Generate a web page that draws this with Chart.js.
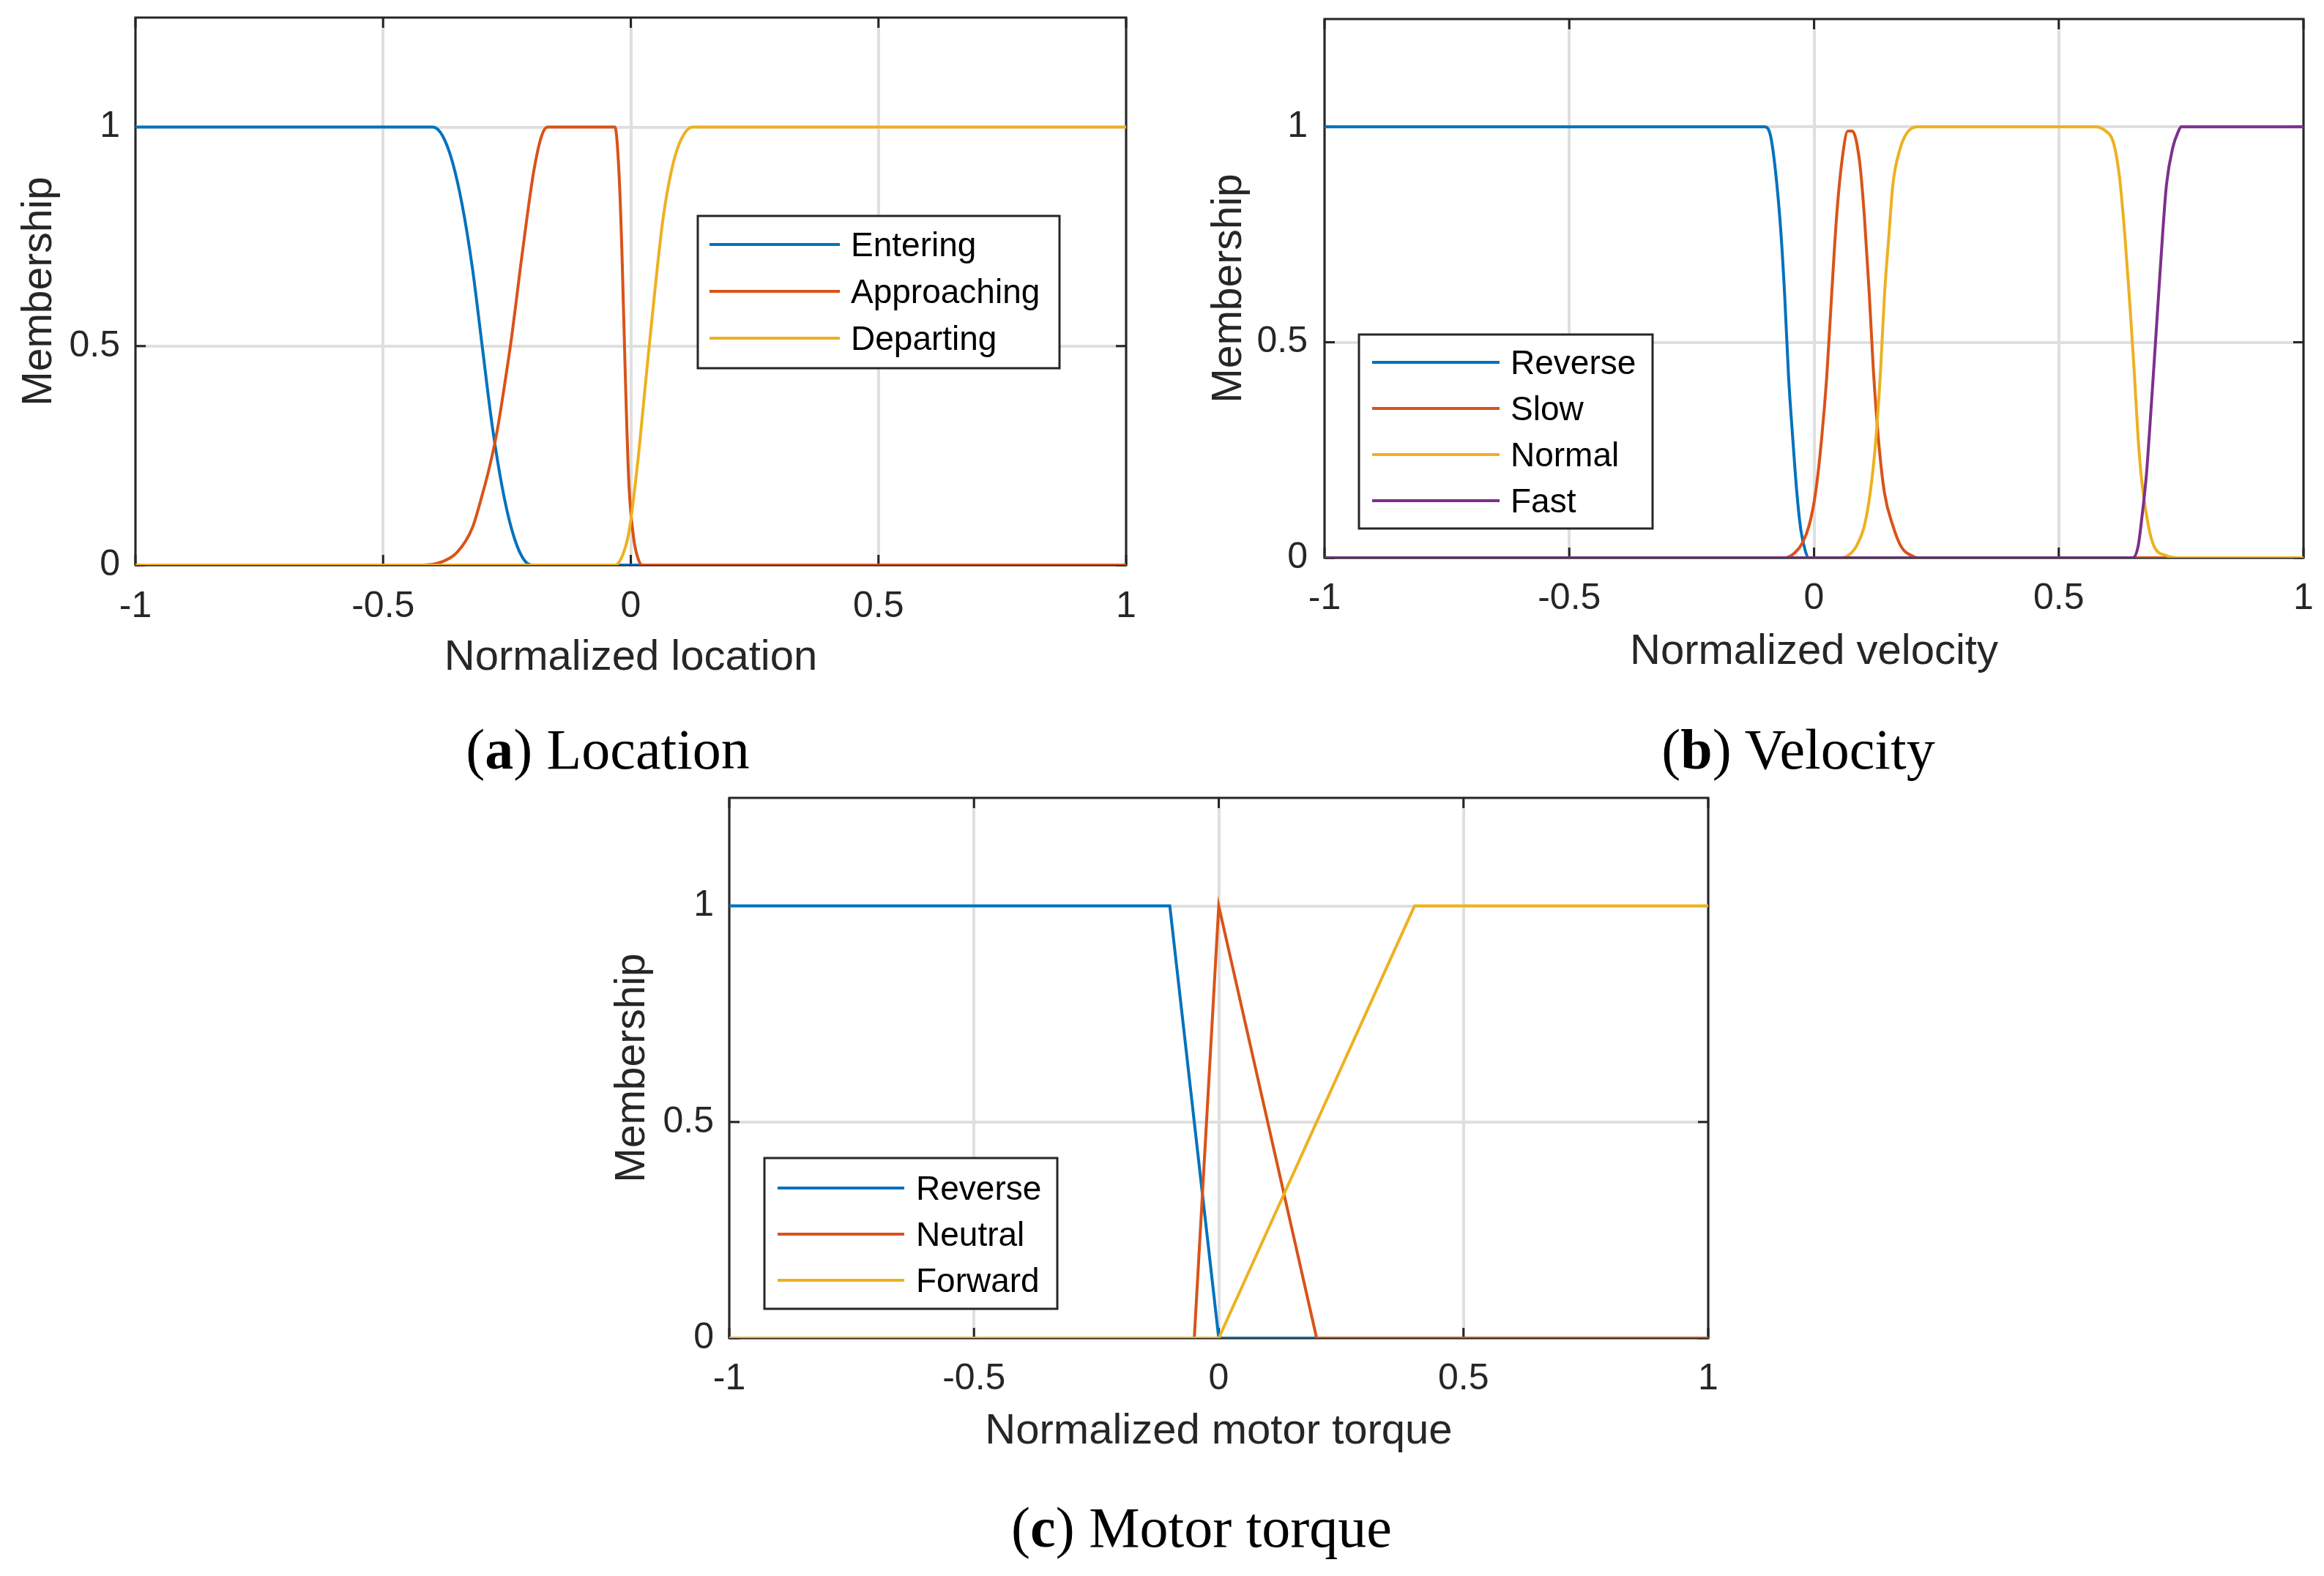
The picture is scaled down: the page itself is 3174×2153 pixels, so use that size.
<!DOCTYPE html>
<html>
<head>
<meta charset="utf-8">
<script src="https://cdn.jsdelivr.net/npm/chart.js@4.4.1/dist/chart.umd.min.js"></script>
<style>
    html, body { margin: 0; padding: 0; background: #fff; }
    body { width: 3174px; height: 2153px; position: relative; overflow: hidden; }
    canvas { position: absolute; }
    .caption { position: absolute; font-family: "Liberation Serif", "Times New Roman", serif; font-size: 78px; line-height: 78px; color: #000; white-space: nowrap; transform: translateX(-50%); }
</style>
</head>
<body>
<canvas id="locationChart" width="1600" height="970" style="left:0px;top:0px;width:1600px;height:970px"></canvas>
<canvas id="velocityChart" width="1554" height="970" style="left:1620px;top:0px;width:1554px;height:970px"></canvas>
<canvas id="torqueChart" width="1600" height="980" style="left:800px;top:1050px;width:1600px;height:980px"></canvas>
<div class="caption" style="left:830px;top:985px">(<b>a</b>) Location</div>
<div class="caption" style="left:2456px;top:985px">(<b>b</b>) Velocity</div>
<div class="caption" style="left:1641px;top:2048px">(<b>c</b>) Motor torque</div>
<script>
// ticks shared by all three panels
var xTicks = [-1, -0.5, 0, 0.5, 1];
var xTickLabels = ['-1', '-0.5', '0', '0.5', '1'];
var yTicks = [0, 0.5, 1];
var yTickLabels = ['0', '0.5', '1'];

// (a) location
var locationLabels = ['Entering', 'Approaching', 'Departing'];
var enteringX = [-1, -0.4, -0.38, -0.36, -0.34, -0.32, -0.3, -0.28, -0.26, -0.24, -0.22, -0.2, 1];
var enteringY = [1, 1, 0.98, 0.92, 0.82, 0.68, 0.5, 0.32, 0.18, 0.08, 0.02, 0, 0];
var approachingX = [-1, -0.42, -0.38, -0.35, -0.32, -0.3, -0.285, -0.27, -0.255, -0.24, -0.225, -0.21, -0.195, -0.18, -0.168, -0.032, -0.024, -0.018, -0.011, -0.004, 0.006, 0.015, 0.023, 1];
var approachingY = [0, 0, 0.008, 0.03, 0.085, 0.16, 0.225, 0.305, 0.41, 0.525, 0.66, 0.79, 0.905, 0.98, 1, 1, 0.9, 0.72, 0.43, 0.19, 0.06, 0.014, 0, 0];
var departingX = [-1, -0.032, -0.016, -0.003, 0.014, 0.031, 0.048, 0.065, 0.082, 0.099, 0.125, 1];
var departingY = [0, 0, 0.024, 0.08, 0.235, 0.43, 0.62, 0.79, 0.9, 0.965, 1, 1];

// (b) velocity
var velocityLabels = ['Reverse', 'Slow', 'Normal', 'Fast'];
var reverseX = [-1, -0.1, -0.089, -0.079, -0.068, -0.06, -0.052, -0.043, -0.035, -0.027, -0.018, -0.011, 1];
var reverseY = [1, 1, 0.98, 0.9, 0.76, 0.61, 0.42, 0.27, 0.15, 0.065, 0.017, 0, 0];
var slowX = [-1, -0.06, -0.039, -0.023, -0.01, 0.003, 0.015, 0.026, 0.036, 0.046, 0.057, 0.069, 0.078, 0.093, 0.103, 0.113, 0.121, 0.132, 0.144, 0.161, 0.178, 0.203, 0.215, 1];
var slowY = [0, 0, 0.012, 0.036, 0.075, 0.15, 0.27, 0.42, 0.61, 0.79, 0.92, 0.99, 0.99, 0.92, 0.79, 0.61, 0.44, 0.27, 0.15, 0.075, 0.026, 0.003, 0, 0];
var normalX = [-1, 0.053, 0.069, 0.086, 0.103, 0.115, 0.126, 0.136, 0.144, 0.153, 0.161, 0.174, 0.19, 0.211, 0.574, 0.595, 0.612, 0.624, 0.635, 0.645, 0.654, 0.662, 0.67, 0.683, 0.695, 0.72, 0.745, 1];
var normalY = [0, 0, 0.005, 0.026, 0.075, 0.153, 0.27, 0.436, 0.611, 0.748, 0.865, 0.942, 0.986, 1, 1, 0.991, 0.962, 0.884, 0.748, 0.592, 0.436, 0.28, 0.173, 0.075, 0.026, 0.005, 0, 0];
var fastX = [-1, 0.651, 0.662, 0.67, 0.679, 0.687, 0.695, 0.704, 0.712, 0.72, 0.733, 0.745, 0.75, 1];
var fastY = [0, 0, 0.026, 0.095, 0.192, 0.319, 0.455, 0.611, 0.748, 0.865, 0.952, 0.991, 1, 1];

// (c) motor torque
var torqueLabels = ['Reverse', 'Neutral', 'Forward'];
var torqueReverseX = [-1, -0.1, 0, 1];
var torqueReverseY = [1, 1, 0, 0];
var neutralX = [-1, -0.05, 0, 0.2, 1];
var neutralY = [0, 0, 1, 0, 0];
var forwardX = [-1, 0, 0.4, 1];
var forwardY = [0, 0, 1, 1];

var lineColors = ['#0072BD', '#D95319', '#EDB120', '#7E2F8E'];

Chart.defaults.font.family = '"Liberation Sans", Arial, sans-serif';
Chart.defaults.color = '#262626';

function toPoints(xs, ys) {
    return xs.map(function (x, i) { return { x: x, y: ys[i] }; });
}

function makeDataset(label, xs, ys, i, smooth) {
    return {
        label: label,
        data: toPoints(xs, ys),
        showLine: true,
        borderColor: lineColors[i],
        backgroundColor: lineColors[i],
        borderWidth: 4,
        pointRadius: 0,
        fill: false,
        cubicInterpolationMode: smooth ? 'monotone' : 'default',
        tension: 0,
        order: -i   // later series painted on top, as in MATLAB
    };
}

// MATLAB-like box with inward ticks on all four sides (under the data lines)
var boxPlugin = {
    id: 'matlabBox',
    beforeDatasetsDraw: function (chart) {
        var ctx = chart.ctx, a = chart.chartArea;
        var xs = chart.scales.x, ys = chart.scales.y;
        var len = 14;
        ctx.save();
        ctx.strokeStyle = '#262626';
        ctx.lineWidth = 3;
        ctx.beginPath();
        xTicks.forEach(function (v) {
            var px = xs.getPixelForValue(v);
            ctx.moveTo(px, a.bottom); ctx.lineTo(px, a.bottom - len);
            ctx.moveTo(px, a.top); ctx.lineTo(px, a.top + len);
        });
        yTicks.forEach(function (v) {
            var py = ys.getPixelForValue(v);
            ctx.moveTo(a.left, py); ctx.lineTo(a.left + len, py);
            ctx.moveTo(a.right, py); ctx.lineTo(a.right - len, py);
        });
        ctx.stroke();
        ctx.strokeRect(a.left, a.top, a.right - a.left, a.bottom - a.top);
        ctx.restore();
    }
};

// legend drawn inside the axes, like MATLAB
var boxLegendPlugin = {
    id: 'boxLegend',
    afterDraw: function (chart, args, opts) {
        var ctx = chart.ctx;
        ctx.save();
        ctx.fillStyle = '#fff';
        ctx.fillRect(opts.left, opts.top, opts.width, opts.height);
        ctx.strokeStyle = '#262626';
        ctx.lineWidth = 3;
        ctx.strokeRect(opts.left, opts.top, opts.width, opts.height);
        ctx.font = '46px "Liberation Sans", Arial, sans-serif';
        ctx.textBaseline = 'middle';
        ctx.textAlign = 'left';
        chart.data.datasets.forEach(function (ds, i) {
            var y = opts.top + opts.firstRow + i * opts.rowGap;
            ctx.strokeStyle = ds.borderColor;
            ctx.lineWidth = 4;
            ctx.beginPath();
            ctx.moveTo(opts.left + opts.lineStart, y);
            ctx.lineTo(opts.left + opts.lineStart + opts.lineLength, y);
            ctx.stroke();
            ctx.fillStyle = '#000';
            ctx.fillText(ds.label, opts.left + opts.textStart, y + 3);
        });
        ctx.restore();
    }
};

function drawMembershipChart(id, datasets, titleX, frame, legend) {
    return new Chart(document.getElementById(id), {
        type: 'scatter',
        data: { datasets: datasets },
        plugins: [boxPlugin, boxLegendPlugin],
        options: {
            responsive: false,
            animation: false,
            devicePixelRatio: 1,
            layout: { padding: { top: frame.top, right: frame.right, left: 0, bottom: 0 } },
            plugins: {
                legend: { display: false },
                tooltip: { enabled: false },
                boxLegend: legend
            },
            scales: {
                x: {
                    type: 'linear',
                    min: -1,
                    max: 1,
                    afterBuildTicks: function (axis) { axis.ticks = xTicks.map(function (v) { return { value: v }; }); },
                    afterFit: function (axis) {
                        axis.height = frame.xHeight;
                        axis.paddingLeft = 0;
                        axis.paddingRight = 0;
                    },
                    ticks: {
                        autoSkip: false,
                        maxRotation: 0,
                        padding: frame.xTickPad,
                        font: { size: 50 },
                        callback: function (v, i) { return xTickLabels[i]; }
                    },
                    grid: { color: '#dfdfdf', lineWidth: 4, drawTicks: false },
                    border: { display: false },
                    title: {
                        display: true,
                        text: titleX,
                        font: { size: 58 },
                        padding: { top: 0, bottom: frame.xTitlePad }
                    }
                },
                y: {
                    type: 'linear',
                    min: 0,
                    max: 1.25,
                    afterBuildTicks: function (axis) { axis.ticks = yTicks.map(function (v) { return { value: v }; }); },
                    afterFit: function (axis) {
                        axis.width = frame.yWidth;
                        axis.paddingTop = 0;
                        axis.paddingBottom = 0;
                    },
                    ticks: {
                        autoSkip: false,
                        padding: frame.yTickPad,
                        font: { size: 50 },
                        callback: function (v, i) { return yTickLabels[i]; }
                    },
                    grid: { color: '#dfdfdf', lineWidth: 4, drawTicks: false },
                    border: { display: false },
                    title: {
                        display: true,
                        text: 'Membership',
                        font: { size: 57 },
                        padding: { top: frame.yTitlePad, bottom: 0 }
                    }
                }
            }
        }
    });
}

document.addEventListener("DOMContentLoaded", function () {
    drawMembershipChart('locationChart', [
        makeDataset(locationLabels[0], enteringX, enteringY, 0, true),
        makeDataset(locationLabels[1], approachingX, approachingY, 1, true),
        makeDataset(locationLabels[2], departingX, departingY, 2, true)
    ], 'Normalized location',
    { top: 24, right: 62, yWidth: 185, xHeight: 198, xTickPad: 27, yTickPad: 21, xTitlePad: 36, yTitlePad: 20 },
    { left: 953, top: 295, width: 494, height: 208, firstRow: 39, rowGap: 64, lineStart: 16, lineLength: 178, textStart: 209 });

    drawMembershipChart('velocityChart', [
        makeDataset(velocityLabels[0], reverseX, reverseY, 0, true),
        makeDataset(velocityLabels[1], slowX, slowY, 1, true),
        makeDataset(velocityLabels[2], normalX, normalY, 2, true),
        makeDataset(velocityLabels[3], fastX, fastY, 3, true)
    ], 'Normalized velocity',
    { top: 26, right: 28, yWidth: 189, xHeight: 208, xTickPad: 26, yTickPad: 23, xTitlePad: 44, yTitlePad: 25 },
    { left: 236, top: 457, width: 401, height: 265, firstRow: 38, rowGap: 63, lineStart: 18, lineLength: 174, textStart: 207 });

    drawMembershipChart('torqueChart', [
        makeDataset(torqueLabels[0], torqueReverseX, torqueReverseY, 0, false),
        makeDataset(torqueLabels[1], neutralX, neutralY, 1, false),
        makeDataset(torqueLabels[2], forwardX, forwardY, 2, false)
    ], 'Normalized motor torque',
    { top: 40, right: 67, yWidth: 196, xHeight: 202, xTickPad: 26, yTickPad: 21, xTitlePad: 39, yTitlePad: 30 },
    { left: 244, top: 532, width: 400, height: 206, firstRow: 41, rowGap: 63, lineStart: 18, lineLength: 173, textStart: 207 });
});
</script>
</body>
</html>
